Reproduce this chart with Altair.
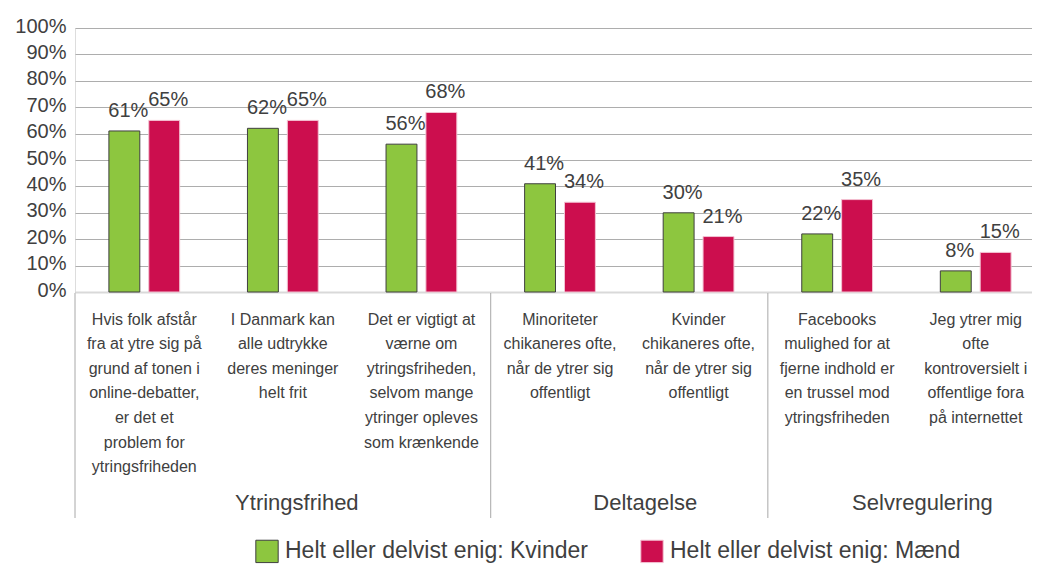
import altair as alt
import pandas as pd

categories = [
    "Hvis folk afstår|fra at ytre sig på|grund af tonen i|online-debatter,|er det et|problem for|ytringsfriheden",
    "I Danmark kan|alle udtrykke|deres meninger|helt frit",
    "Det er vigtigt at|værne om|ytringsfriheden,|selvom mange|ytringer opleves|som krænkende",
    "Minoriteter|chikaneres ofte,|når de ytrer sig|offentligt",
    "Kvinder|chikaneres ofte,|når de ytrer sig|offentligt",
    "Facebooks|mulighed for at|fjerne indhold er|en trussel mod|ytringsfriheden",
    "Jeg ytrer mig|ofte|kontroversielt i|offentlige fora|på internettet",
]
series = ["Helt eller delvist enig: Kvinder", "Helt eller delvist enig: Mænd"]
kvinder = [61, 62, 56, 41, 30, 22, 8]
maend = [65, 65, 68, 34, 21, 35, 15]

groups = ["Ytringsfrihed", "Deltagelse", "Selvregulering"]
group_start = [categories[0], categories[3], categories[5]]
group_label_anchor_center = [categories[1]]
group_label_anchor_edge = [categories[4], categories[6]]

y_ticks = [0, 10, 20, 30, 40, 50, 60, 70, 80, 90, 100]

colors = ["#8DC63F", "#CC0E4E"]
strokes = ["#3F3F3F", "#F3C2D2"]

rows = []
for i, c in enumerate(categories):
    rows.append({"cat": c, "series": series[0], "value": kvinder[i]})
    rows.append({"cat": c, "series": series[1], "value": maend[i]})
df = pd.DataFrame(rows)
df["label"] = df["value"].astype(str) + "%"

FONT = "Liberation Sans"
TXT = "#404040"

# view is 957 px wide (fits the page); bands continue slightly past the right edge as in the original
xscale = alt.Scale(domain=categories, paddingInner=0, paddingOuter=0, range=[0, 970])
xoff_scale = alt.Scale(domain=series, paddingInner=0.225, paddingOuter=0.85)
yscale = alt.Scale(domain=[0, 100])

x_axis = alt.Axis(
    labelExpr="split(datum.label, '|')",
    labelAngle=0, labelAlign="center", labelBaseline="top",
    labelFontSize=16, labelLineHeight=24.6, labelPadding=19,
    labelLimit=0, labelColor=TXT, labelFont=FONT, labelOverlap=False,
    ticks=False, domainColor="#D9D9D9", domainWidth=2, grid=False,
)
y_axis = alt.Axis(
    values=y_ticks,
    labelExpr="datum.value + '%'",
    labelFontSize=20, labelFont=FONT, labelColor=TXT,
    labelPadding=9, ticks=False, domain=False, labelOverlap=False,
    grid=True, gridColor="#ADADAD", gridWidth=1.2,
    labelOffset=-2,
)

x_enc = alt.X("cat:N", scale=xscale, sort=categories, title=None, axis=x_axis)
y_enc = alt.Y("value:Q", scale=yscale, title=None, axis=y_axis)

bars = alt.Chart(df).mark_bar(strokeWidth=1).encode(
    x=x_enc,
    xOffset=alt.XOffset("series:N", scale=xoff_scale, sort=series),
    y=y_enc,
    color=alt.Color(
        "series:N", sort=series,
        scale=alt.Scale(domain=series, range=colors),
        legend=alt.Legend(
            title=None, orient="none", legendX=180, legendY=511,
            direction="horizontal", symbolType="square", symbolSize=500,
            symbolStrokeWidth=1, labelFontSize=23, labelFont=FONT,
            labelColor=TXT, labelOffset=6, columnPadding=50, labelLimit=0,
            symbolOpacity=1,
        ),
    ),
    stroke=alt.Stroke(
        "series:N", sort=series,
        scale=alt.Scale(domain=series, range=strokes),
        legend=None,
    ),
)

value_labels = alt.Chart(df).mark_text(
    fontSize=20, font=FONT, color=TXT, baseline="alphabetic", dy=-14, dx=4
).encode(
    x=x_enc,
    xOffset=alt.XOffset("series:N", scale=xoff_scale, sort=series),
    y=y_enc,
    text="label:N",
)

sep_df = pd.DataFrame({"cat": group_start})
separators = alt.Chart(sep_df).mark_rule(color="#A8A8A8", strokeWidth=1).encode(
    x=alt.X("cat:N", scale=xscale, sort=categories, bandPosition=0, axis=x_axis, title=None),
    y=alt.value(265),
    y2=alt.value(490),
)

g1 = pd.DataFrame({"cat": group_label_anchor_center, "g": groups[:1]})
g2 = pd.DataFrame({"cat": group_label_anchor_edge, "g": groups[1:]})
glab1 = alt.Chart(g1).mark_text(fontSize=22, font=FONT, color=TXT, dx=14).encode(
    x=alt.X("cat:N", scale=xscale, sort=categories, bandPosition=0.5, axis=x_axis, title=None),
    y=alt.value(475),
    text="g:N",
)
glab2 = alt.Chart(g2).mark_text(fontSize=22, font=FONT, color=TXT, dx=16).encode(
    x=alt.X("cat:N", scale=xscale, sort=categories, bandPosition=0, axis=x_axis, title=None),
    y=alt.value(475),
    text="g:N",
)

chart = alt.layer(bars, value_labels, separators, glab1, glab2).properties(
    width=957, height=264,
    autosize=alt.AutoSizeParams(type="none"),
    padding={"left": 67, "top": 20, "right": 0, "bottom": 272},
).configure_view(stroke=None).configure(font=FONT)

chart.save("out.html", embed_options={"renderer": "svg", "actions": False})
